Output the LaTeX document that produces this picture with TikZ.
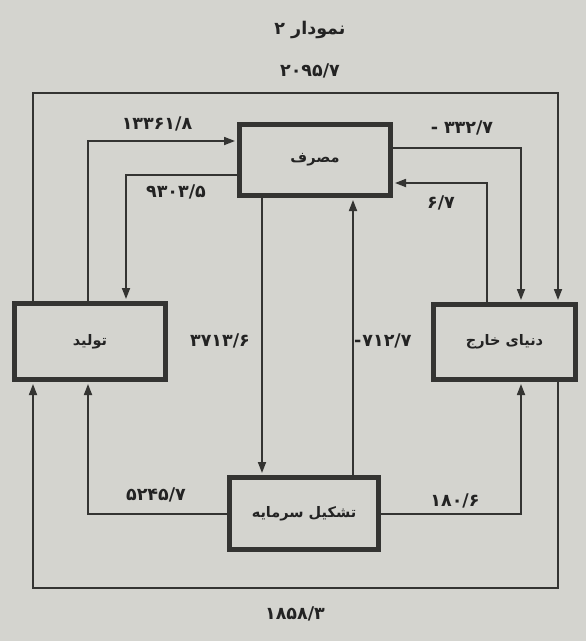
\documentclass[tikz,border=0pt]{standalone}
\usepackage{fontspec}
\usetikzlibrary{arrows.meta}
\TeXXeTstate=1
\newfontfamily\fa[Script=Arabic]{DejaVu Sans}
\definecolor{bgC}{RGB}{212,212,207}
\definecolor{lnC}{RGB}{52,52,50}
\definecolor{txC}{RGB}{35,35,35}
\tikzset{
  boxnode/.style={draw=lnC, line width=5pt, fill=bgC, inner sep=0pt, text=txC, font=\fa\bfseries\fontsize{14.5}{16}\selectfont},
  flow/.style={draw=lnC, line width=1.7pt, -{Triangle[length=11pt,width=8pt]}, shorten >=2pt},
  num/.style={text=txC, font=\fa\bfseries\fontsize{17.5}{19}\selectfont, inner sep=0pt},
}
\begin{document}
\begin{tikzpicture}[x=1pt,y=-1pt]
\fill[bgC] (0,0) rectangle (586,641);
\useasboundingbox (0,0) rectangle (586,641);

% boxes
\node[boxnode, minimum width=151pt, minimum height=71pt] (cons) at (315,160) {\beginR مصرف\endR};
\node[boxnode, minimum width=151pt, minimum height=76pt] (prod) at (90,341.5) {\beginR تولید\endR};
\node[boxnode, minimum width=142pt, minimum height=75pt] (world) at (504.5,342) {\beginR دنیای خارج\endR};
\node[boxnode, minimum width=149pt, minimum height=72pt] (cf) at (304,513.5) {\beginR تشکیل سرمایه\endR};

% bend coordinates
\coordinate (oTL) at (33,93);
\coordinate (oTR) at (558,93);
\coordinate (oBR) at (558,588);
\coordinate (oBL) at (33,588);
\coordinate (a1) at (88,141);
\coordinate (a2) at (126,175);
\coordinate (a3) at (521,148);
\coordinate (a4) at (487,183);
\coordinate (a5) at (262,300);
\coordinate (a6) at (353,300);
\coordinate (a7) at (88,514);
\coordinate (a8) at (521,514);

% connectors
\draw[flow] (prod.north -| oTL) -- (oTL) -- (oTR) -- (world.north -| oTR);
\draw[flow] (world.south -| oBR) -- (oBR) -- (oBL) -- (prod.south -| oBL);
\draw[flow] (prod.north -| a1) -- (a1) -- (a1 -| cons.west);
\draw[flow] (cons.west |- a2) -- (a2) -- (prod.north -| a2);
\draw[flow] (cons.east |- a3) -- (a3) -- (world.north -| a3);
\draw[flow] (world.north -| a4) -- (a4) -- (cons.east |- a4);
\draw[flow] (cons.south -| a5) -- (cf.north -| a5);
\draw[flow] (cf.north -| a6) -- (cons.south -| a6);
\draw[flow] (cf.west |- a7) -- (a7) -- (prod.south -| a7);
\draw[flow] (cf.east |- a8) -- (a8) -- (world.south -| a8);

% labels
\node[num] (title) at (310,30) {\beginR نمودار ۲\endR};
\node[num] (l1) at (310,71) {۲۰۹۵/۷};
\node[num] (l2) at (157,124) {۱۳۳۶۱/۸};
\node[num] (l3) at (176,192) {۹۳۰۳/۵};
\node[num] (l4) at (462,128) {-\kern6pt ۳۳۲/۷};
\node[num] (l5) at (441,203) {۶/۷};
\node[num] (l6) at (220,341) {۳۷۱۳/۶};
\node[num, anchor=west] (l7) at (354,341) {-\kern1pt ۷۱۲/۷};
\node[num] (l8) at (156,495) {۵۲۴۵/۷};
\node[num] (l9) at (455,501) {۱۸۰/۶};
\node[num] (l10) at (295,614) {۱۸۵۸/۳};
\end{tikzpicture}
\end{document}
